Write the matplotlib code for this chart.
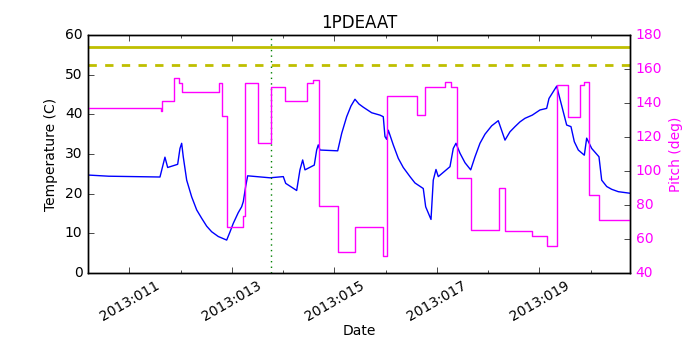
import matplotlib
matplotlib.use('Agg')
import matplotlib.pyplot as plt
from matplotlib.ticker import FixedLocator, FuncFormatter

plt.style.use('classic')
plt.rcParams['font.size'] = 10

# temperature (day of year 2013, deg C)
temp_day = [10.19, 10.60, 11.599, 11.696, 11.749, 11.944, 11.989, 12.022, 12.053, 12.120,
            12.217, 12.315, 12.412, 12.510, 12.607, 12.736, 12.900, 12.966, 13.028, 13.125,
            13.192, 13.224, 13.270, 13.309, 13.744,
            14.004, 14.051, 14.265, 14.329, 14.382, 14.427, 14.608, 14.655, 14.686,
            14.720, 15.065, 15.143, 15.240, 15.324, 15.402, 15.480, 15.564, 15.728,
            15.890, 15.954, 15.987, 16.020, 16.052, 16.149, 16.247, 16.344, 16.475,
            16.572, 16.734, 16.781, 16.885, 16.929,
            16.982, 17.027, 17.255, 17.319, 17.372, 17.450, 17.548, 17.659, 17.743,
            17.840, 17.938, 18.068, 18.197, 18.328, 18.425, 18.523, 18.620, 18.718,
            18.860, 19.010, 19.141, 19.186, 19.336,
            19.531, 19.615, 19.680, 19.758, 19.875, 19.921, 20.019, 20.161, 20.214,
            20.312, 20.409, 20.538, 20.77]
temp_val = [24.7, 24.4, 24.2, 29.2, 26.6, 27.4, 31.4, 32.7, 29.3, 23.4,
            19.2, 15.9, 13.8, 11.8, 10.4, 9.2, 8.3, 10.4, 12.5, 15.2,
            16.7, 18.0, 21.8, 24.5, 24.0,
            24.3, 22.6, 20.8, 26.0, 28.5, 26.0, 27.2, 31.0, 32.3,
            31.0, 30.8, 35.2, 39.4, 42.1, 43.8, 42.6, 41.8, 40.4,
            39.8, 39.4, 34.4, 33.7, 36.0, 32.3, 28.9, 26.6, 24.3,
            22.7, 21.3, 16.7, 13.5, 23.4,
            26.1, 24.3, 26.8, 31.4, 32.7, 30.2, 27.8, 26.0, 29.3,
            32.7, 35.0, 37.1, 38.4, 33.5, 35.6, 36.9, 38.1, 39.0,
            39.8, 41.1, 41.5, 44.0, 47.1,
            37.3, 36.9, 33.1, 31.0, 29.7, 34.0, 31.4, 29.3, 23.4,
            21.8, 21.1, 20.5, 20.1]

# pitch (day of year 2013, deg), held until next change
pitch_day = [10.19, 11.618, 11.638, 11.878, 11.969, 12.034, 12.750, 12.802, 12.900,
             13.212, 13.266, 13.510, 13.770, 14.031, 14.460, 14.577, 14.696, 15.065,
             15.396, 15.954, 16.036, 16.606, 16.762, 17.163, 17.275, 17.386, 17.665,
             18.211, 18.322, 18.860, 19.141, 19.346, 19.557, 19.791, 19.875, 19.961,
             20.158, 20.77]
pitch_val = [136.9, 135.5, 141.4, 154.9, 151.6, 146.3, 151.6, 132.4, 67.2,
             73.5, 151.6, 116.3, 149.6, 141.4, 151.6, 153.3, 79.4, 52.5,
             67.2, 50.0, 144.1, 132.9, 149.2, 152.5, 149.6, 96.1, 65.3,
             90.2, 64.9, 61.9, 56.1, 150.6, 131.6, 150.6, 152.2, 85.9,
             71.2, 71.2]

planning_limit = 57.0
caution_limit = 52.5
now_day = 13.764

fig = plt.figure(figsize=(7, 3.5), dpi=100, facecolor='white')
ax = fig.add_axes([0.1257, 0.22, 0.7743, 0.68])
ax.plot(temp_day, temp_val, 'b-')
ax.axhline(planning_limit, color='y', lw=2)
ax.axhline(caution_limit, color='y', lw=2, ls='--')
ax.axvline(now_day, color='g', ls=':')
ax.set_xlim(10.195, 20.766)
ax.set_ylim(0, 60)
ax.xaxis.set_major_locator(FixedLocator([11, 13, 15, 17, 19]))
ax.xaxis.set_minor_locator(FixedLocator([12, 14, 16, 18, 20]))
ax.xaxis.set_major_formatter(FuncFormatter(lambda v, p: '2013:%03d' % int(round(v))))
plt.setp(ax.get_xticklabels(), rotation=30)
ax.set_xlabel('Date', labelpad=0.5)
ax.set_ylabel('Temperature (C)')
ax.set_title('1PDEAAT')

ax2 = ax.twinx()
ax2.plot(pitch_day, pitch_val, color='magenta', drawstyle='steps-post')
ax2.set_ylim(40, 180)
ax2.set_ylabel('Pitch (deg)', color='magenta')
for t in ax2.get_yticklabels():
    t.set_color('magenta')
ax2.set_xlim(10.195, 20.766)

fig.savefig('out.png', dpi=100, facecolor='white')
